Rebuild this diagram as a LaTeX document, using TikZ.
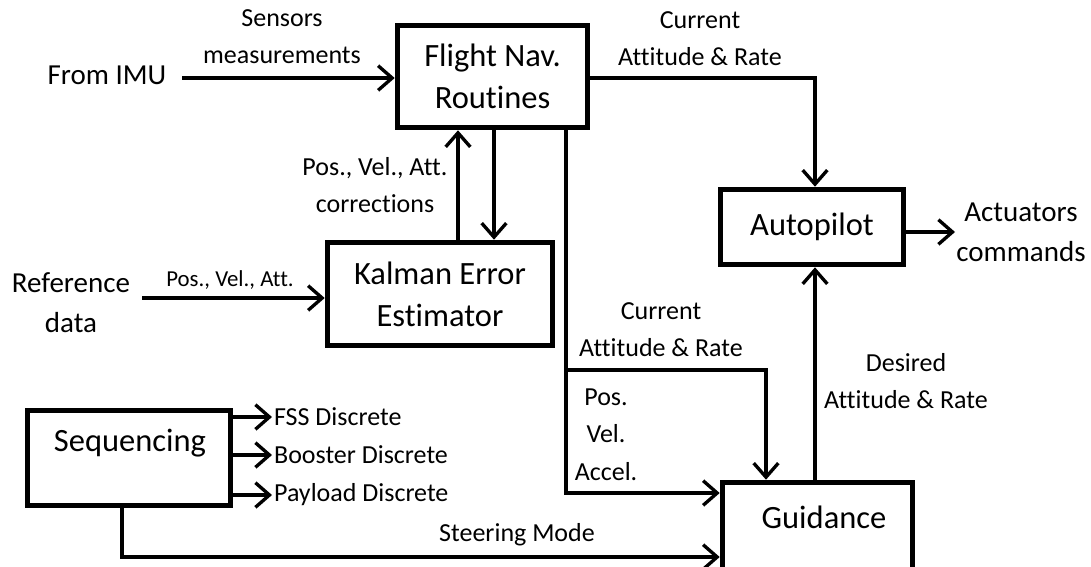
\documentclass[tikz,border=0pt]{standalone}
\usepackage{fontspec}
\setmainfont[Ligatures=NoCommon]{Carlito}
\usetikzlibrary{arrows.meta}
\begin{document}
\begin{tikzpicture}[x=0.02cm,y=-0.02cm,
 box/.style={draw,line width=3.2pt,inner sep=0pt,align=center,font=\fontsize{18.5}{24}\selectfont},
 boxtxt/.style={inner sep=0pt,align=center,font=\fontsize{18.5}{24}\selectfont},
 lbl/.style={inner sep=0pt,align=center,font=\fontsize{14.8}{21}\selectfont},
 big/.style={inner sep=0pt,align=center,font=\fontsize{16.5}{23}\selectfont},
 small/.style={inner sep=0pt,align=center,font=\fontsize{13}{16}\selectfont},
 conn/.style={line width=1.9pt},
 arr/.style={conn,-{Straight Barb[length=8pt,width=14pt]}}]
\useasboundingbox (0,0) rectangle (1091,566);

% boxes
\node[box,minimum width=3.8cm,minimum height=2.04cm] (fn) at (492.5,76.5) {Flight Nav.\\Routines};
\node[box,minimum width=4.5cm,minimum height=2.06cm] (kal) at (440,294) {Kalman Error\\Estimator};
\node[box,minimum width=4.06cm,minimum height=1.9cm] (seq) at (129,458) {};
\node[boxtxt] (seqt) at (130,443) {Sequencing};
\node[box,minimum width=3.66cm,minimum height=1.5cm] (ap) at (812,227) {Autopilot};
\node[box,minimum width=3.8cm,minimum height=1.9cm] (guid) at (817.5,530) {};
\node[boxtxt] (guidt) at (824,517) {Guidance};

% labels
\node[big] (imu) at (107,75) {From IMU};
\node[lbl] (sens) at (282,36.5) {Sensors\\measurements};
\node[lbl] (cur1) at (700,38.5) {Current\\Attitude \& Rate};
\node[lbl] (corr) at (375,185.5) {Pos., Vel., Att.\\corrections};
\node[big] (ref) at (71,302.5) {Reference\\data};
\node[small] (pva) at (230,280) {Pos., Vel., Att.};
\node[big] (act) at (1021,232.5) {Actuators\\commands};
\node[lbl] (cur2) at (661,329.5) {Current\\Attitude \& Rate};
\node[lbl] (pos) at (606,397) {Pos.};
\node[lbl] (vel) at (606,434) {Vel.};
\node[lbl] (acc) at (606,472) {Accel.};
\node[lbl] (des) at (906,381.5) {Desired\\Attitude \& Rate};
\node[lbl,anchor=west,inner sep=1pt] (fss) at (272,417) {FSS Discrete};
\node[lbl,anchor=west,inner sep=1pt] (boo) at (272,455) {Booster Discrete};
\node[lbl,anchor=west,inner sep=1pt] (pay) at (272,495) {Payload Discrete};
\node[lbl] (steer) at (517,535) {Steering Mode};

% helper coordinates
\coordinate (imuS) at (182,78);
\coordinate (apx) at (815,78);
\coordinate (c458) at (458,0);
\coordinate (c494) at (494,0);
\coordinate (refS) at (142,298);
\coordinate (c566) at (566,493);
\coordinate (br) at (566,370);
\coordinate (c766) at (766,370);
\coordinate (c815) at (815,0);
\coordinate (actE) at (955,232);
\coordinate (st) at (122,557);

% connectors
\draw[arr] (imuS) -- (imuS -| fn.west);
\draw[arr] (fn.east |- apx) -| (ap.north -| apx);
\draw[arr] (kal.north -| c458) -- (fn.south -| c458);
\draw[arr] (fn.south -| c494) -- (kal.north -| c494);
\draw[arr] (refS) -- (refS -| kal.west);
\draw[arr] (fn.south -| c566) -- (c566) -- (c566 -| guid.west);
\draw[arr] (br) -- (c766) -- (c766 |- guid.north);
\draw[arr] (guid.north -| c815) -- (ap.south -| c815);
\draw[arr] (ap.east |- actE) -- (actE);
\draw[arr] (seq.east |- fss.west) -- (fss.west);
\draw[arr] (seq.east |- boo.west) -- (boo.west);
\draw[arr] (seq.east |- pay.west) -- (pay.west);
\draw[arr] (seq.south -| st) -- (st) -- (st -| guid.west);
\end{tikzpicture}
\end{document}
